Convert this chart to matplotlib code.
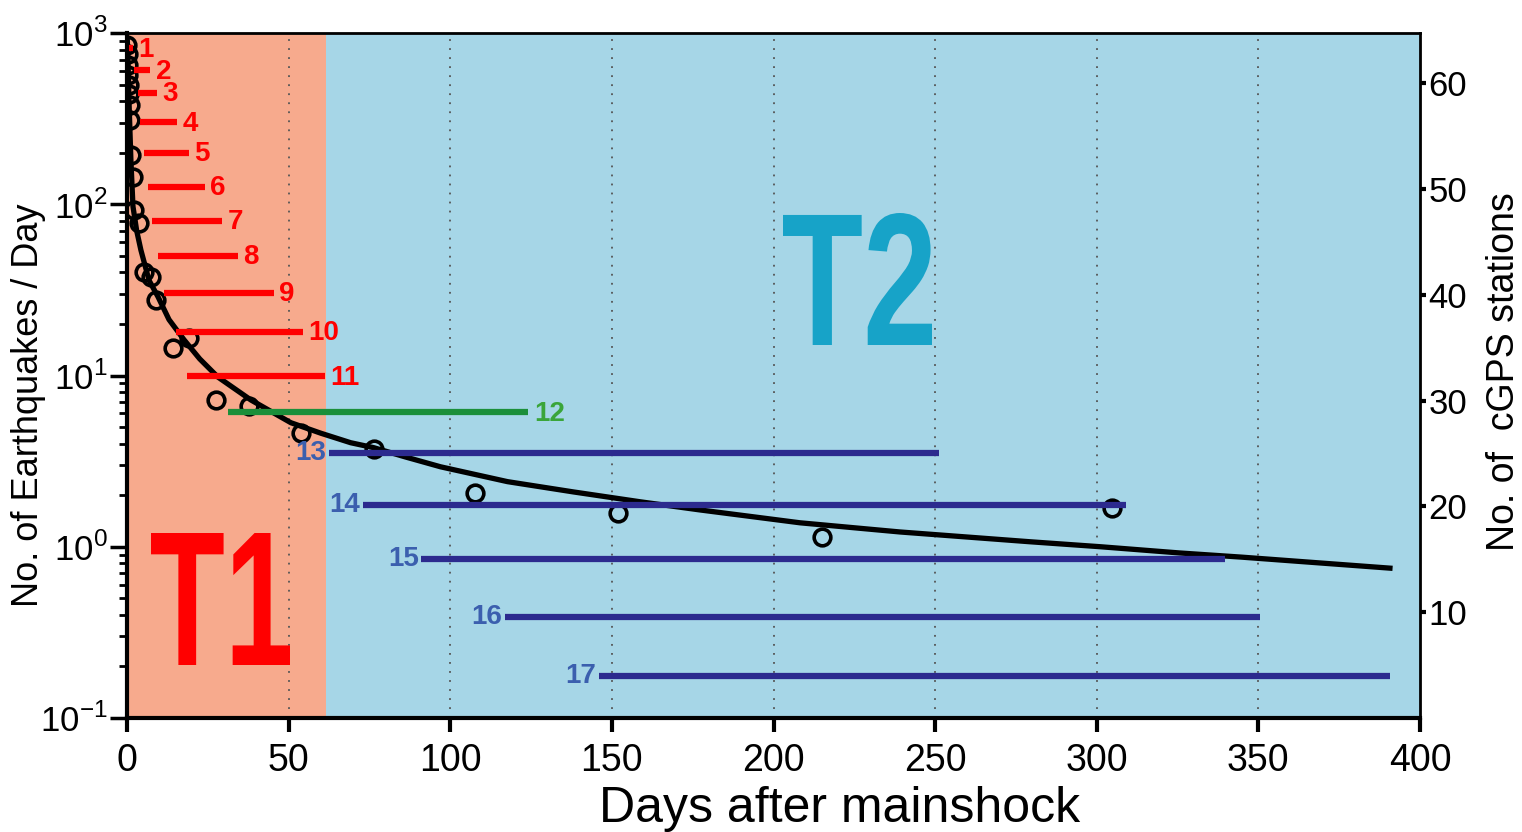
import numpy as np
import matplotlib
matplotlib.use('Agg')
import matplotlib.pyplot as plt
from matplotlib.ticker import FuncFormatter, LogLocator
from matplotlib.textpath import TextPath
from matplotlib.patches import PathPatch
from matplotlib.font_manager import FontProperties
from matplotlib.transforms import Affine2D, IdentityTransform

plt.rcParams['font.family'] = ['Liberation Sans', 'DejaVu Sans']
plt.rcParams['mathtext.fontset'] = 'custom'
plt.rcParams['mathtext.rm'] = 'Liberation Sans'

# daily earthquake counts (circles)
obs_days = [0.1, 0.2, 0.3, 0.4, 0.5, 0.6, 0.8, 1.0, 1.2, 1.9, 2.2, 3.7, 5.3, 7.4, 9.0,
            14.2, 19.2, 27.5, 37.7, 53.7, 76.3, 107.8, 152, 215, 304.6]
obs_rate = [850, 750, 650, 570, 500, 440, 380, 310, 195, 145, 93, 78, 40, 37.7, 27.7,
            14.5, 16.6, 7.2, 6.6, 4.6, 3.7, 2.07, 1.58, 1.14, 1.69]

# fitted decay curve
fit_days = [0.1, 0.3, 0.6, 1.2, 1.85, 3.0, 4.3, 6.8, 9.6, 13, 17.6, 22.5, 28.1, 38.3, 50.7,
            60, 69.2, 76.3, 86, 97, 117.7, 138.1, 158.8, 177.3, 208.2, 239.1, 279.2,
            301.2, 325.6, 344.7, 390.7]
fit_rate = [900, 700, 408, 182, 97, 70, 54, 36, 28.8, 21.2, 16.2, 12.5, 9.8, 7.2, 5.3,
            4.6, 4.05, 3.79, 3.35, 2.93, 2.4, 2.09, 1.83, 1.64, 1.38, 1.22, 1.07,
            1.0, 0.92, 0.87, 0.75]

# cGPS time windows: label, level (no. of stations axis), start day, end day
win_labels = ['1', '2', '3', '4', '5', '6', '7', '8', '9', '10', '11', '12',
              '13', '14', '15', '16', '17']
win_level = [63.3, 61.2, 59.1, 56.3, 53.4, 50.2, 47.0, 43.7, 40.2, 36.5, 32.3, 28.9,
             25.0, 20.1, 15.0, 9.5, 4.0]
win_start = [0.6, 2.2, 3.4, 4.0, 5.3, 6.5, 7.7, 9.6, 11.4, 15.1, 18.5, 31.2,
             62.4, 72.9, 91.1, 116.8, 146.0]
win_end = [1.8, 7.1, 9.3, 15.4, 19.2, 24.1, 29.3, 34.3, 45.4, 54.4, 61.2, 124.2,
           251.1, 308.9, 339.8, 350.6, 390.7]
win_group = ['T1'] * 11 + ['mid'] + ['T2'] * 5

t1_end = 61.5

fig = plt.figure(figsize=(15.22, 8.32), dpi=100)
ax = fig.add_axes([127 / 1522, 1 - 718 / 832, (1420 - 127) / 1522, (718 - 33) / 832])

ax.axvspan(0, t1_end, color='#f7aa8d', lw=0, zorder=0)
ax.axvspan(t1_end, 400, color='#a6d6e7', lw=0, zorder=0)
for gx in range(50, 400, 50):
    ax.axvline(gx, color='#555555', lw=1.3, ls=(0, (1, 4)), zorder=1)

ax.set_yscale('log')
ax.set_xlim(0, 400)
ax.set_ylim(0.1, 1000)
ax.plot(fit_days, fit_rate, color='black', lw=3.8, zorder=3)
ax.plot(obs_days, obs_rate, 'o', mfc='none', mec='black', ms=12, mew=2.6, zorder=4)


def condensed_label(s, box, color):
    # big period labels are narrow bold letters: fit the glyph outline into a pixel box
    tp = TextPath((0, 0), s, size=100, prop=FontProperties(family='Liberation Sans', weight='bold'))
    ext = tp.get_extents()
    x0, y0, x1, y1 = box
    tr = (Affine2D().translate(-ext.x0, -ext.y0)
          .scale((x1 - x0) / ext.width, (y1 - y0) / ext.height)
          .translate(x0, 832 - y1))
    ax.add_artist(PathPatch(tp, transform=tr + IdentityTransform(), color=color, lw=0,
                            zorder=2))


condensed_label('T1', (151, 533, 290, 665), '#ff0000')
condensed_label('T2', (783, 213, 932, 345), '#17a3c8')

ax.set_xticks(range(0, 401, 50))
ax.tick_params(axis='x', labelsize=27, length=10, width=3, direction='out', pad=8)
ax.yaxis.set_major_locator(LogLocator(base=10, numticks=10))
ax.yaxis.set_minor_locator(LogLocator(base=10, subs=np.arange(2, 10), numticks=20))
ax.yaxis.set_major_formatter(FuncFormatter(lambda v, p: r'$10^{%d}$' % round(np.log10(v))))
ax.tick_params(axis='y', which='major', labelsize=25, length=12, width=2.5, pad=2)
ax.tick_params(axis='y', which='minor', length=6, width=2)
ax.set_xlabel('Days after mainshock', fontsize=36)
ax.xaxis.set_label_coords(0.551, -0.1)
ax.set_ylabel('No. of Earthquakes / Day', fontsize=26)
ax.yaxis.set_label_coords(-0.063, 0.457)
for side in ['left', 'bottom']:
    ax.spines[side].set_linewidth(3)
for side in ['top', 'right']:
    ax.spines[side].set_linewidth(2)

ax2 = ax.twinx()
ax2.set_ylim(0, 64.74)
ax2.set_yticks(range(10, 61, 10))
ax2.tick_params(axis='y', labelsize=25, length=4, width=3, pad=2)
ax2.set_ylabel('No. of  cGPS stations', fontsize=27)
ax2.yaxis.set_label_coords(1.051, 0.505)
for side in ax2.spines:
    ax2.spines[side].set_visible(False)

line_color = {'T1': '#ff0000', 'mid': '#1b8f3a', 'T2': '#2c2a8e'}
text_color = {'T1': '#ff0000', 'mid': '#3aa53a', 'T2': '#3b5fae'}
for lab, lev, s, e, g in zip(win_labels, win_level, win_start, win_end, win_group):
    ax2.hlines(lev, s, e, color=line_color[g], lw=4.5, zorder=5)
    if g == 'T2':
        ax2.annotate(lab, (s, lev), xytext=(-2, 0), textcoords='offset points',
                     ha='right', va='center', color=text_color[g], fontsize=20,
                     fontweight='bold')
    else:
        ax2.annotate(lab, (e, lev), xytext=(4, -1), textcoords='offset points',
                     ha='left', va='center', color=text_color[g], fontsize=20,
                     fontweight='bold')

fig.savefig('out.png', dpi=100)
